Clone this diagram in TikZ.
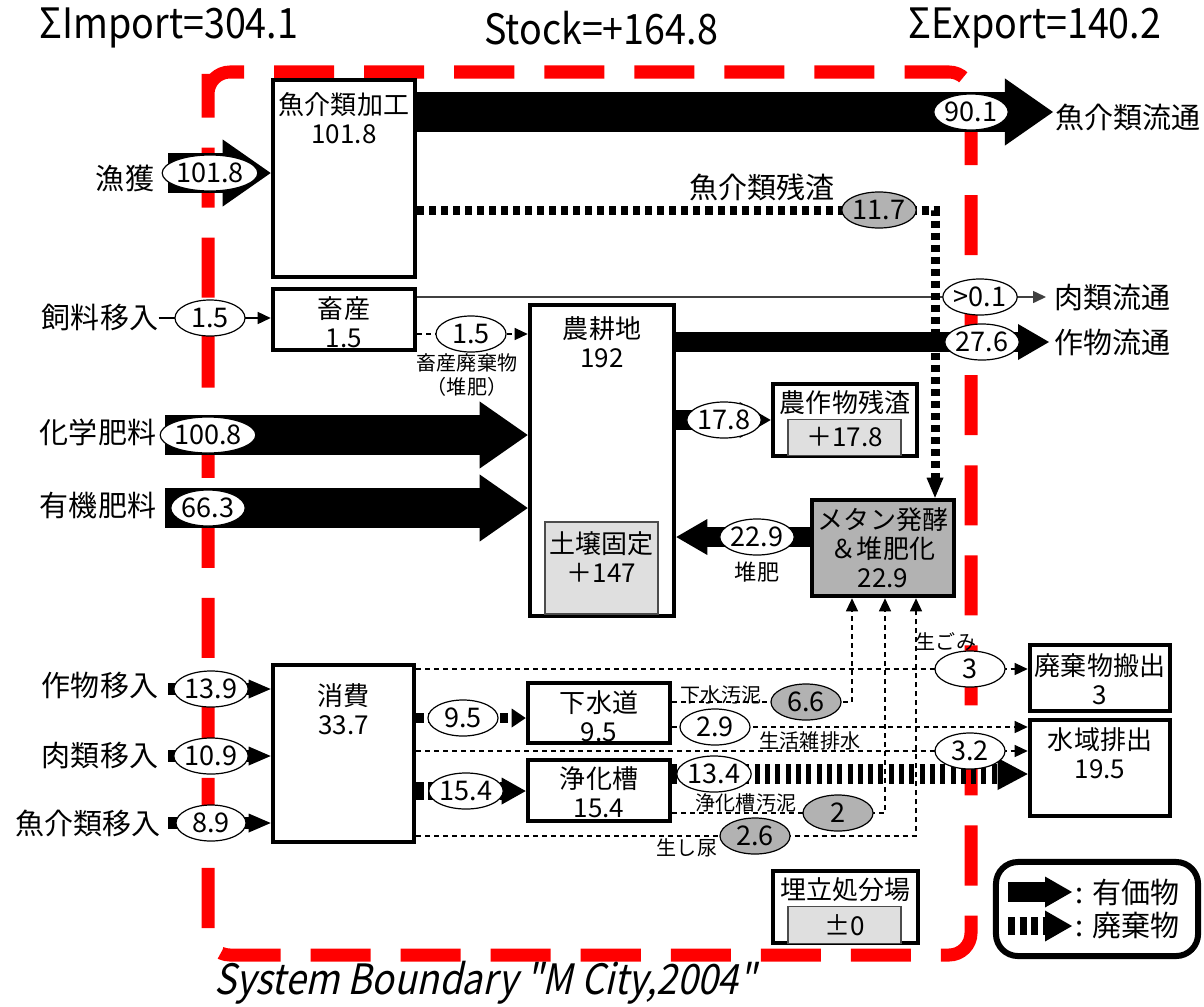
\documentclass[tikz,border=0pt]{standalone}
\usepackage{fontspec}
\setmainfont{Noto Sans CJK JP}
\newfontfamily\narrowfont{Noto Sans CJK JP}[FakeStretch=0.9]
\newfontfamily\slantfont{Noto Sans CJK JP}[FakeStretch=0.88, FakeSlant=0.22]
\usetikzlibrary{shapes.geometric, arrows.meta}

\begin{document}
\begin{tikzpicture}[
  x=0.01cm, y=-0.01cm,
  hdr/.style={inner sep=0pt, font=\narrowfont\fontsize{11.9}{14}\selectfont},
  sysT/.style={inner sep=0pt, font=\slantfont\fontsize{11.9}{14}\selectfont},
  lbl/.style={inner sep=0pt, font=\fontsize{8.25}{10}\selectfont},
  sml/.style={inner sep=0pt, align=center, font=\fontsize{5.7}{6.8}\selectfont},
  ttl/.style={inner sep=0pt, align=center, font=\fontsize{7.4}{8.25}\selectfont},
  box/.style={draw, line width=0.045cm, fill=white, inner sep=0pt},
  inbox/.style={draw=black!70, line width=0.012cm, fill=gray!25, inner sep=0pt,
                font=\fontsize{7.4}{8.25}\selectfont},
  val/.style={ellipse, draw, line width=0.012cm, fill=white, inner sep=0pt,
              minimum width=0.70cm, minimum height=0.36cm, font=\fontsize{7.7}{9}\selectfont},
  gval/.style={val, fill=gray!60},
  bnd/.style={red, line width=0.13cm, rounded corners=0.22cm,
              dash pattern=on 0.6cm off 0.3cm, dash phase=0.814cm},
  bigarr/.style={line width=0.40cm, -{Triangle[length=0.48cm, width=0.67cm, line width=0pt]}},
  midarr/.style={line width=0.20cm, -{Triangle[length=0.31cm, width=0.36cm, line width=0pt]}},
  smlarr/.style={line width=0.12cm, -{Triangle[length=0.22cm, width=0.19cm, line width=0pt]}},
  thinarr/.style={line width=0.015cm, -{Triangle[length=0.13cm, width=0.12cm]}},
  dsharr/.style={thinarr, line width=0.012cm, dash pattern=on 0.05cm off 0.04cm},
  wres/.style={line width=0.09cm, dash pattern=on 0.07cm off 0.05cm,
               -{Triangle[length=0.2cm, width=0.17cm, line width=0pt]}},
  wsew/.style={line width=0.10cm, dash pattern=on 0.08cm off 0.04cm,
               -{Triangle[length=0.14cm, width=0.19cm, line width=0pt]}},
  wsep/.style={line width=0.18cm, dash pattern=on 0.08cm off 0.04cm,
               -{Triangle[length=0.24cm, width=0.27cm, line width=0pt]}},
  wbar/.style={line width=0.20cm, dash pattern=on 0.05cm off 0.053cm,
               -{Triangle[length=0.30cm, width=0.32cm, line width=0pt]}},
]

\fill[white] (0,0) rectangle (1204,1006);
\useasboundingbox (0,0) rectangle (1204,1006);

%% flow levels (value ellipses) and free ends
\coordinate (qGyo)     at (210,173);
\coordinate (qFeed)    at (210,318);
\coordinate (qChem)    at (208,435);
\coordinate (qOrg)     at (208,508);
\coordinate (qCropIn)  at (211,689);
\coordinate (qMeatIn)  at (211,756);
\coordinate (qFishIn)  at (211,823);
\coordinate (qFishOut) at (971,112);
\coordinate (qResFish) at (879,210);
\coordinate (qMeatOut) at (980,297);
\coordinate (qCropOut) at (982,342);
\coordinate (qManure)  at (471,334);
\coordinate (qResid)   at (724,420);
\coordinate (qComp)    at (757,537);
\coordinate (qSew)     at (463,718);
\coordinate (qSep)     at (466,791);
\coordinate (qSludgeS) at (806,702);
\coordinate (qGrey)    at (715,727);
\coordinate (qSepOut)  at (714,774);
\coordinate (qSludgeJ) at (838,813);
\coordinate (qNight)   at (755,836);
\coordinate (qGarb)    at (970,669);
\coordinate (qMisc)    at (970,751);

\coordinate (gyoTail)    at (168,173);
\coordinate (chemTail)   at (165,435);
\coordinate (orgTail)    at (165,508);
\coordinate (cropInTail) at (168,689);
\coordinate (meatInTail) at (168,756);
\coordinate (fishInTail) at (168,823);
\coordinate (fishOutTip) at (1053,112);
\coordinate (cropOutTip) at (1049,342);
\coordinate (meatOutTip) at (1046,297);
\coordinate (resTurn)     at (935,210);
\coordinate (sludgeSTurn) at (852,702);
\coordinate (sludgeJTurn) at (885,813);
\coordinate (nightTurn)   at (916,836);

%% HEADER
\node[hdr] (imp) at (169,28)  {ΣImport=304.1};
\node[hdr] (stk) at (601,28)  {Stock=+164.8};
\node[hdr] (exp) at (1035,28) {ΣExport=140.2};

%% SYSTEM BOUNDARY
\draw[bnd] (208,96) -- (208,72) -- (971,72) -- (971,955) -- (208,955) -- cycle;
\node[sysT] (sysb) at (485,983) {System Boundary "M City,2004"};

%% PROCESS BOXES
\node[box, minimum width=1.42cm, minimum height=1.97cm] (fish)   at (344,178.5) {};
\node[box, minimum width=1.42cm, minimum height=0.61cm] (live)   at (344,319.5) {};
\node[box, minimum width=1.44cm, minimum height=3.11cm] (farm)   at (602,460.5) {};
\node[box, minimum width=1.44cm, minimum height=0.72cm] (resid)  at (845,420)   {};
\node[box, minimum width=1.42cm, minimum height=0.96cm, fill=gray!60] (meth) at (883,548) {};
\node[box, minimum width=1.41cm, minimum height=1.77cm] (cons)   at (343.5,753.5) {};
\node[box, minimum width=1.42cm, minimum height=0.60cm] (sewer)  at (599,713)   {};
\node[box, minimum width=1.42cm, minimum height=0.61cm] (septic) at (599,790.5) {};
\node[box, minimum width=1.40cm, minimum height=0.66cm] (wout)   at (1100,678)  {};
\node[box, minimum width=1.40cm, minimum height=0.96cm] (water)  at (1100,768)  {};
\node[box, minimum width=1.45cm, minimum height=0.72cm] (landf)  at (845.5,907) {};

\node[inbox, minimum width=1.13cm, minimum height=0.92cm] (soil)    at (601.5,568) {};
\node[inbox, minimum width=1.13cm, minimum height=0.36cm] (residIn) at (844.5,437.5) {＋17.8};
\node[inbox, minimum width=1.13cm, minimum height=0.37cm] (landfIn) at (844.5,925) {±0};

\node[ttl] (fishT)   at (344,118)   {魚介類加工\\101.8};
\node[ttl] (liveT)   at (344,322.5) {畜産\\1.5};
\node[ttl] (farmT)   at (602,342)   {農耕地\\192};
\node[ttl] (soilT)   at (601.5,557) {土壌固定\\＋147};
\node[ttl] (residT)  at (845,402)   {農作物残渣};
\node[ttl] (methT)   at (883,548)   {メタン発酵\\＆堆肥化\\22.9};
\node[ttl] (consT)   at (343.5,709) {消費\\33.7};
\node[ttl] (sewerT)  at (599,716)   {下水道\\9.5};
\node[ttl] (septicT) at (599,792)   {浄化槽\\15.4};
\node[ttl] (woutT)   at (1100,679)  {廃棄物搬出\\3};
\node[ttl] (waterT)  at (1100,753)  {水域排出\\19.5};
\node[ttl] (landfT)  at (845.5,890) {埋立処分場};

%% OUTSIDE LABELS
\node[lbl] (gyoL)     at (125,178)  {漁獲};
\node[lbl] (feedL)    at (100,317)  {飼料移入};
\node[lbl] (chemL)    at (98,432)   {化学肥料};
\node[lbl] (orgL)     at (98,505)   {有機肥料};
\node[lbl] (cropInL)  at (100,685)  {作物移入};
\node[lbl] (meatInL)  at (100,755)  {肉類移入};
\node[lbl] (fishInL)  at (88,823)   {魚介類移入};
\node[lbl] (fishOutL) at (1128,117) {魚介類流通};
\node[lbl] (meatOutL) at (1112,297) {肉類流通};
\node[lbl] (cropOutL) at (1112,342) {作物流通};

%% VALUABLE FLOWS
\draw[bigarr] (gyoTail) -- (fish.west |- gyoTail);
\draw[bigarr] (fish.east |- qFishOut) -- (fishOutTip);
\draw[bigarr] (chemTail) -- (farm.west |- chemTail);
\draw[bigarr] (orgTail) -- (farm.west |- orgTail);
\draw[midarr] (farm.east |- qCropOut) -- (cropOutTip);
\draw[midarr] (farm.east |- qResid) -- (resid.west |- qResid);
\draw[midarr] (meth.west |- qComp) -- (farm.east |- qComp);
\draw[smlarr] (cropInTail) -- (cons.west |- cropInTail);
\draw[smlarr] (meatInTail) -- (cons.west |- meatInTail);
\draw[smlarr] (fishInTail) -- (cons.west |- fishInTail);
\draw[thinarr] (feedL.east |- qFeed) -- (live.west |- qFeed);
\draw[thinarr, black!75] (live.east |- qMeatOut) -- (meatOutTip);
\draw[dsharr] (live.east |- qManure) -- (farm.west |- qManure);

%% WASTE FLOWS
\draw[wres] (fish.east |- qResFish) -- (resTurn) -- (resTurn |- meth.north);
\draw[wsew] (cons.east |- qSew) -- (sewer.west |- qSew);
\draw[wsep] (cons.east |- qSep) -- (septic.west |- qSep);
\draw[wbar] (septic.east |- qSepOut) -- (water.west |- qSepOut);

\draw[dsharr] (cons.east |- qGarb) -- (wout.west |- qGarb);
\draw[dsharr] (cons.east |- qMisc) -- (water.west |- qMisc);
\draw[dsharr] (sewer.east |- qGrey) -- (water.west |- qGrey);
\draw[dsharr] (sewer.east |- qSludgeS) -- (sludgeSTurn) -- (sludgeSTurn |- meth.south);
\draw[dsharr] (septic.east |- qSludgeJ) -- (sludgeJTurn) -- (sludgeJTurn |- meth.south);
\draw[dsharr] (cons.east |- qNight) -- (nightTurn) -- (nightTurn |- meth.south);

%% VALUES
\node[val]  (eGyo)     at (qGyo)     {101.8};
\node[val]  (eFeed)    at (qFeed)    {1.5};
\node[val]  (eChem)    at (qChem)    {100.8};
\node[val]  (eOrg)     at (qOrg)     {66.3};
\node[val]  (eCropIn)  at (qCropIn)  {13.9};
\node[val]  (eMeatIn)  at (qMeatIn)  {10.9};
\node[val]  (eFishIn)  at (qFishIn)  {8.9};
\node[val]  (eFishOut) at (qFishOut) {90.1};
\node[gval] (eResFish) at (qResFish) {11.7};
\node[val]  (eMeatOut) at (qMeatOut) {>0.1};
\node[val]  (eCropOut) at (qCropOut) {27.6};
\node[val]  (eManure)  at (qManure)  {1.5};
\node[val]  (eResid)   at (qResid)   {17.8};
\node[val]  (eComp)    at (qComp)    {22.9};
\node[val]  (eSew)     at (qSew)     {9.5};
\node[val]  (eSep)     at (qSep)     {15.4};
\node[gval] (eSludgeS) at (qSludgeS) {6.6};
\node[val]  (eGrey)    at (qGrey)    {2.9};
\node[val]  (eSepOut)  at (qSepOut)  {13.4};
\node[gval] (eSludgeJ) at (qSludgeJ) {2};
\node[gval] (eNight)   at (qNight)   {2.6};
\node[val]  (eGarb)    at (qGarb)    {3};
\node[val]  (eMisc)    at (qMisc)    {3.2};

%% FLOW LABELS
\node[lbl] (resFishL) at (762,187) {魚介類残渣};
\node[sml] (manureL)  at (467,375) {畜産廃棄物\\（堆肥）};
\node[sml, font=\fontsize{6.3}{7.5}\selectfont] (compL) at (757,572) {堆肥};
\node[sml] (sludgeSL) at (721,695) {下水汚泥};
\node[sml] (greyL)    at (810,741) {生活雑排水};
\node[sml] (sludgeJL) at (746,803) {浄化槽汚泥};
\node[sml] (nightL)   at (687,848) {生し尿};
\node[sml] (garbL)    at (946,642) {生ごみ};

%% LEGEND
\node[draw, line width=0.06cm, rounded corners=0.22cm,
      minimum width=2.02cm, minimum height=0.94cm] (legend) at (1097,909) {};
\coordinate (lgVal)    at (1008,892);
\coordinate (lgValEnd) at (1072,892);
\coordinate (lgWst)    at (1008,926);
\coordinate (lgWstEnd) at (1072,926);
\draw[line width=0.2cm, -{Triangle[length=0.27cm, width=0.31cm, line width=0pt]}] (lgVal) -- (lgValEnd);
\draw[line width=0.18cm, dash pattern=on 0.07cm off 0.045cm,
      -{Triangle[length=0.27cm, width=0.31cm, line width=0pt]}] (lgWst) -- (lgWstEnd);
\node[lbl, anchor=west] (lgValT) at (1075,892) {: 有価物};
\node[lbl, anchor=west] (lgWstT) at (1075,926) {: 廃棄物};

\end{tikzpicture}
\end{document}
